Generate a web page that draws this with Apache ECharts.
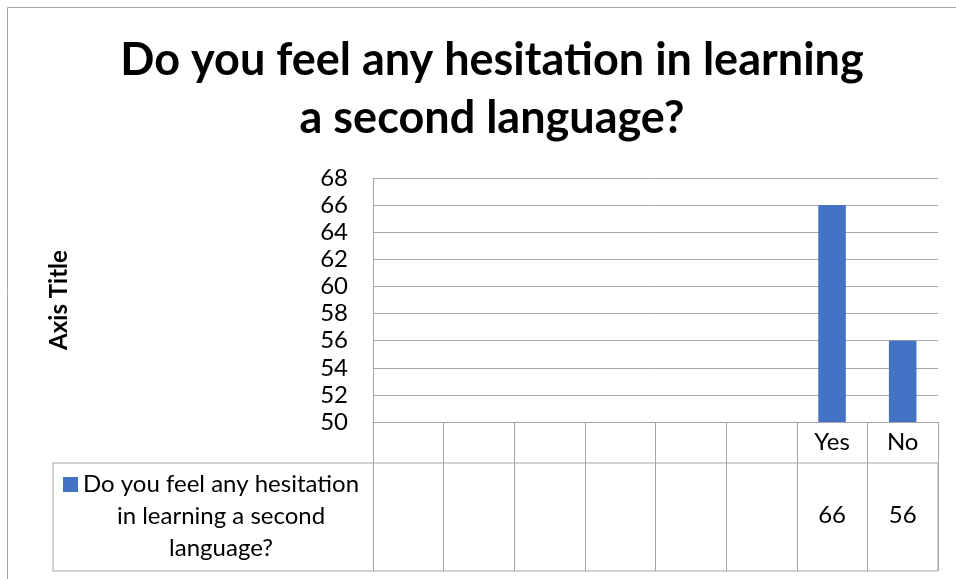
<!DOCTYPE html>
<html>
<head>
<meta charset="utf-8">
<script src="https://cdn.jsdelivr.net/npm/echarts@6/dist/echarts.min.js"></script>
<style>
html, body { margin: 0; padding: 0; background: #fff; }
#main { width: 956px; height: 579px; }
</style>
</head>
<body>
<div id="main"></div>
<script>
// chart data
var categories = ['', '', '', '', '', '', 'Yes', 'No'];
var values = ['-', '-', '-', '-', '-', '-', 66, 56];
var seriesName = 'Do you feel any hesitation in learning a second language?';
var legendLines = ['Do you feel any hesitation', 'in learning a second', 'language?'];
var titleLines = ['Do you feel any hesitation in learning', 'a second language?'];
var yMin = 50, yMax = 68, yStep = 2;

var font = 'Lato';
var lineGray = '#a6a6a6';
var labelSize = 24;

// labels for the value row of the data table
var tableValues = values.map(function (v) {
    return v === '-' ? '' : String(v);
});

var myChart = echarts.init(document.getElementById('main'));

var option = {
    animation: false,
    textStyle: { fontFamily: font },
    title: {
        text: titleLines.join('\n'),
        left: 487,
        textAlign: 'center',
        top: 26,
        textStyle: {
            fontFamily: font,
            fontSize: 45,
            fontWeight: 'bold',
            color: '#000',
            lineHeight: 58
        }
    },
    graphic: [
        {
            // outer chart border
            type: 'rect',
            shape: { x: 7.5, y: 7.5, width: 1000, height: 1000 },
            style: { fill: 'none', stroke: lineGray, lineWidth: 1 },
            silent: true
        }
    ],
    legend: {
        data: [seriesName],
        left: 63,
        top: 408.5,
        padding: 0,
        icon: 'rect',
        itemWidth: 15,
        itemHeight: 15,
        selectedMode: false,
        formatter: function () {
            // two blank lines on top so the icon sits beside the first line
            return ['{c| }', '{c| }'].concat(legendLines.map(function (s) {
                return '{c|' + s + '}';
            })).join('\n');
        },
        textStyle: {
            rich: {
                c: { fontFamily: font, fontSize: labelSize, lineHeight: 32, color: '#000', align: 'center' }
            }
        }
    },
    grid: [
        { left: 373, top: 178, width: 565, height: 244 },
        // value row + legend cell of the data table
        { left: 53, top: 463, width: 885, height: 108, show: true, borderColor: lineGray, borderWidth: 1, backgroundColor: 'transparent' }
    ],
    xAxis: [
        {
            type: 'category',
            gridIndex: 0,
            data: categories,
            axisLine: { show: true, lineStyle: { color: lineGray, width: 1 } },
            axisTick: { show: true, interval: 0, length: 149, lineStyle: { color: lineGray, width: 1 } },
            axisLabel: { interval: 0, margin: 8, fontFamily: font, fontSize: labelSize, color: '#000' },
            splitLine: { show: false }
        },
        {
            type: 'category',
            gridIndex: 0,
            position: 'bottom',
            data: tableValues,
            axisLine: { show: false },
            axisTick: { show: false },
            axisLabel: { interval: 0, margin: 81, fontFamily: font, fontSize: labelSize, color: '#000' },
            splitLine: { show: false }
        },
        { type: 'value', gridIndex: 1, show: false }
    ],
    yAxis: [
        {
            type: 'value',
            gridIndex: 0,
            min: yMin,
            max: yMax,
            interval: yStep,
            name: 'Axis Title',
            nameLocation: 'middle',
            nameGap: 302,
            nameTextStyle: { fontFamily: font, fontSize: 24, fontWeight: 'bold', color: '#000' },
            axisLine: { show: true, lineStyle: { color: lineGray, width: 1 } },
            axisTick: { show: false },
            axisLabel: { margin: 25, fontFamily: font, fontSize: labelSize, color: '#000' },
            splitLine: { show: true, lineStyle: { color: lineGray, width: 1 } }
        },
        { type: 'value', gridIndex: 1, show: false }
    ],
    series: [
        {
            name: seriesName,
            type: 'bar',
            xAxisIndex: 0,
            yAxisIndex: 0,
            data: values,
            barWidth: '39%',
            itemStyle: { color: '#4472c4' }
        }
    ]
};

myChart.setOption(option);
</script>
</body>
</html>
